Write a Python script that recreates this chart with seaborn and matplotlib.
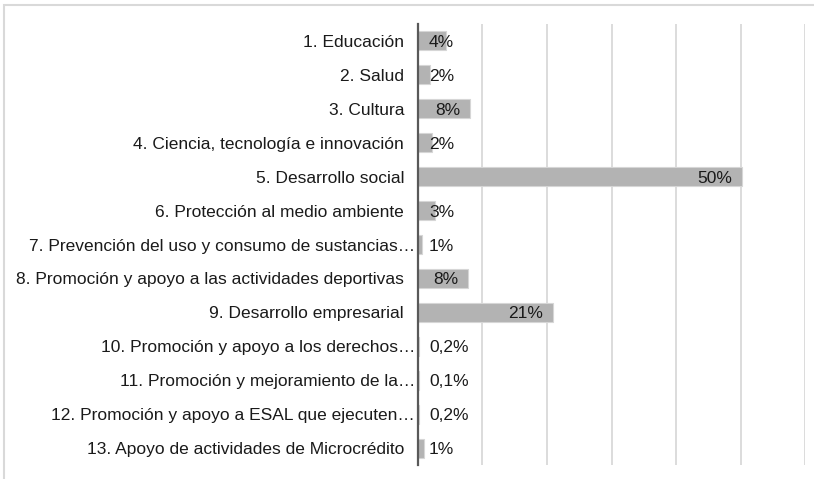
import matplotlib
matplotlib.use("Agg")
import matplotlib.pyplot as plt
import matplotlib.transforms as mtransforms
import seaborn as sns
import pandas as pd

categories = [
    "1. Educación",
    "2. Salud",
    "3. Cultura",
    "4. Ciencia, tecnología e innovación",
    "5. Desarrollo social",
    "6. Protección al medio ambiente",
    "7. Prevención del uso y consumo de sustancias…",
    "8. Promoción y apoyo a las actividades deportivas",
    "9. Desarrollo empresarial",
    "10. Promoción y apoyo a los derechos…",
    "11. Promoción y mejoramiento de la…",
    "12. Promoción y apoyo a ESAL que ejecuten…",
    "13. Apoyo de actividades de Microcrédito",
]
values = [0.044, 0.019, 0.081, 0.022, 0.502, 0.026, 0.006, 0.078, 0.209, 0.002, 0.001, 0.002, 0.009]
value_labels = ["4%", "2%", "8%", "2%", "50%", "3%", "1%", "8%", "21%", "0,2%", "0,1%", "0,2%", "1%"]
xticks = [0.0, 0.1, 0.2, 0.3, 0.4, 0.5, 0.6]

sns.set_theme(style="white")
plt.rcParams["font.family"] = ["Liberation Sans", "DejaVu Sans"]

FS = 12.5
df = pd.DataFrame({"cat": categories, "val": values})

fig = plt.figure(figsize=(8.14, 4.79), dpi=100)
ax = fig.add_axes([0.5135, 0.029, 0.989 - 0.5135, 0.950 - 0.029])

sns.barplot(data=df, y="cat", x="val", orient="h", color="#b3b3b3",
            width=0.56, edgecolor="#d6d6d6", linewidth=0.8, saturation=1,
            ax=ax, zorder=3)

ax.set_xlim(0, 0.6)
ax.set_ylim(len(categories) - 0.5, -0.5)
ax.set_xticks(xticks)
ax.set_xticklabels([])
ax.grid(axis="x", color="#d9d9d9", linewidth=1.3, zorder=0)
ax.grid(axis="y", visible=False)
ax.set_axisbelow(True)
for s in ["top", "right", "bottom"]:
    ax.spines[s].set_visible(False)
ax.spines["left"].set_color("#595959")
ax.spines["left"].set_linewidth(1.6)
ax.spines["left"].set_zorder(5)
ax.set_xlabel("")
ax.set_ylabel("")
ax.tick_params(axis="y", length=0, pad=10, labelsize=FS, labelcolor="#1a1a1a")
ax.tick_params(axis="x", length=0)

# truncated labels overflow slightly toward the axis
for lab in ax.get_yticklabels():
    if lab.get_text().endswith("…"):
        lab.set_transform(lab.get_transform() + mtransforms.ScaledTranslation(11 / 100, 0, fig.dpi_scale_trans))

# value labels
axis_px = 0.6 / (0.989 - 0.5135) / 814  # data units per pixel
for i, (v, t) in enumerate(zip(values, value_labels)):
    bar_px = v / axis_px
    txt_w = 12.0 * len(t)
    if bar_px - 10 - txt_w >= 11:
        ax.annotate(t, xy=(v, i), xytext=(-10 * 0.72, 0), textcoords="offset points",
                    ha="right", va="center_baseline", fontsize=FS, color="#1a1a1a", zorder=6)
    else:
        ax.annotate(t, xy=(0, i), xytext=(11 * 0.72, 0), textcoords="offset points",
                    ha="left", va="center_baseline", fontsize=FS, color="#1a1a1a", zorder=6)

# outer chart border (top and left visible)
border = plt.Rectangle((0.005, -0.1), 1.2, 1.089, transform=fig.transFigure,
                       fill=False, edgecolor="#d9d9d9", linewidth=1.5)
fig.patches.append(border)

fig.savefig("out.png", dpi=100)
